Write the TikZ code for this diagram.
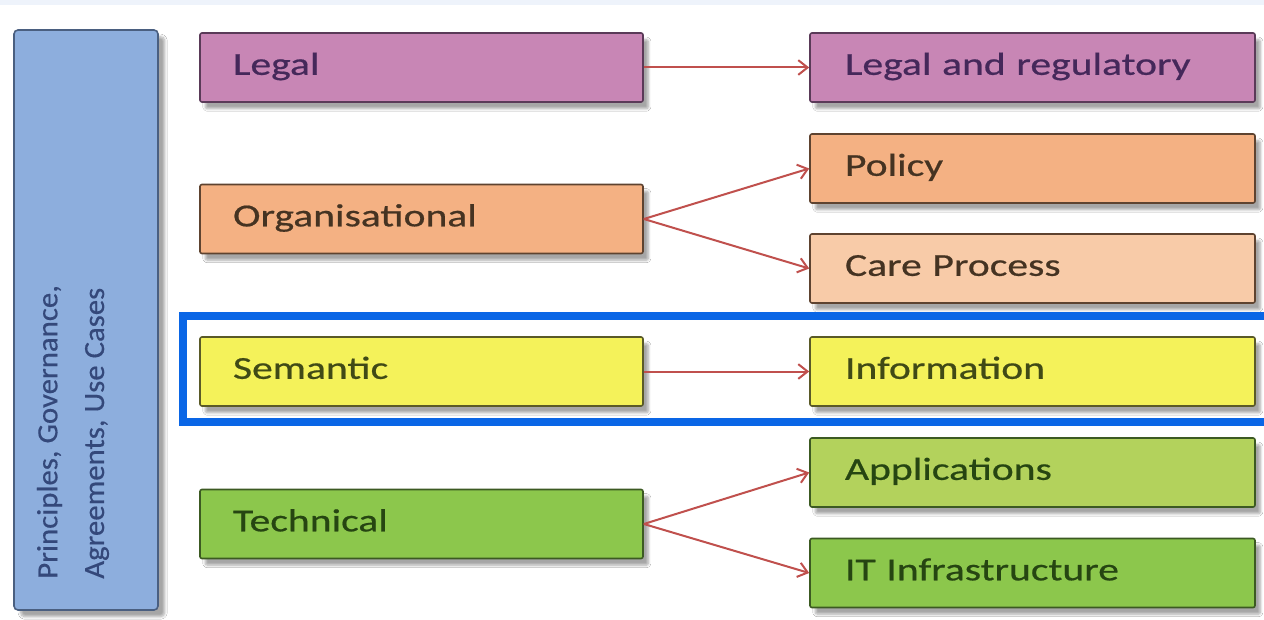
\documentclass[tikz,border=0pt]{standalone}
\usepackage{fontspec}
\setmainfont{Carlito}
\newfontfamily\widefont[FakeStretch=1.3,FakeBold=0.6]{Carlito}
\newfontfamily\sidefont[FakeStretch=1.05,FakeBold=0.4]{Carlito}
\usetikzlibrary{arrows.meta,shadows.blur}
\definecolor{bgstrip}{HTML}{EEF3FB}
\definecolor{sidefill}{HTML}{8DAEDD}
\definecolor{sideline}{HTML}{4A5F80}
\definecolor{sidetext}{HTML}{34487A}
\definecolor{legfill}{HTML}{C886B5}
\definecolor{legline}{HTML}{5A3A58}
\definecolor{legtext}{HTML}{45285A}
\definecolor{orgfill}{HTML}{F4B183}
\definecolor{orgline}{HTML}{5E4330}
\definecolor{orgtext}{HTML}{453322}
\definecolor{carefill}{HTML}{F8CBA8}
\definecolor{semfill}{HTML}{F4F25A}
\definecolor{semline}{HTML}{5A5A28}
\definecolor{semtext}{HTML}{404A16}
\definecolor{tecfill}{HTML}{8CC74C}
\definecolor{tecline}{HTML}{3C5A22}
\definecolor{tectext}{HTML}{264512}
\definecolor{appfill}{HTML}{B3D25C}
\definecolor{arrowc}{HTML}{C0504D}
\definecolor{frameblue}{HTML}{0A66E6}
\tikzset{
  box/.style={draw, line width=1.2pt, rounded corners=1.5pt, minimum height=51.75pt,
    inner ysep=0pt, align=left, text height=16pt, text depth=5pt,
    font=\widefont\fontsize{24}{28}\selectfont,
    blur shadow={shadow xshift=4pt, shadow yshift=-5pt, shadow blur steps=6, shadow opacity=35}},
  lbox/.style={box, text width=282.75pt, inner xsep=24.75pt},
  rbox/.style={box, text width=281.25pt, inner xsep=26.25pt},
  conn/.style={draw=arrowc, line width=1.5pt, -{Straight Barb[length=7pt,width=11pt,line width=1.5pt]}}
}
\begin{document}
\begin{tikzpicture}[x=0.75pt,y=-0.75pt]
\useasboundingbox (0,0) rectangle (1264,620);
\fill[white] (0,0) rectangle (1264,620);
\fill[bgstrip] (0,0) rectangle (1264,5);

% side box
\node[draw=sideline, fill=sidefill, line width=1.2pt, rounded corners=3pt,
  minimum width=108pt, minimum height=435pt, inner sep=0pt,
  blur shadow={shadow xshift=5pt, shadow yshift=-5pt, shadow blur steps=6, shadow opacity=35}]
  (side) at (86,320) {};
\node[rotate=90, anchor=west, align=left, inner sep=0pt, text=sidetext,
  font=\sidefont\fontsize{22}{35}\selectfont] (sidetxt) at (73,579)
  {Principles, Governance,\\Agreements, Use Cases};

% left column
\node[lbox, fill=legfill, draw=legline, text=legtext] (legal) at (421.5,67.5) {Legal};
\node[lbox, fill=orgfill, draw=orgline, text=orgtext] (org) at (421.5,219) {Organisational};
\node[lbox, fill=semfill, draw=semline, text=semtext] (sem) at (421.5,371.5) {Semantic};
\node[lbox, fill=tecfill, draw=tecline, text=tectext] (tec) at (421.5,524) {Technical};

% right column
\node[rbox, fill=legfill, draw=legline, text=legtext] (lr) at (1032.5,67.5) {Legal and regulatory};
\node[rbox, fill=orgfill, draw=orgline, text=orgtext] (pol) at (1032.5,168.5) {Policy};
\node[rbox, fill=carefill, draw=orgline, text=orgtext] (care) at (1032.5,268.5) {Care Process};
\node[rbox, fill=semfill, draw=semline, text=semtext] (info) at (1032.5,371.5) {Information};
\node[rbox, fill=appfill, draw=tecline, text=tectext] (app) at (1032.5,472.5) {Applications};
\node[rbox, fill=tecfill, draw=tecline, text=tectext] (it) at (1032.5,573) {IT Infrastructure};

% connectors
\draw[conn] (legal.east) -- (lr.west);
\draw[conn] (org.east) -- (pol.west);
\draw[conn] (org.east) -- (care.west);
\draw[conn] (sem.east) -- (info.west);
\draw[conn] (tec.east) -- (app.west);
\draw[conn] (tec.east) -- (it.west);

% highlight frame
\begin{scope}
\clip (0,0) rectangle (1264,620);
\draw[frameblue, line width=6pt] (183,316) rectangle (1280,422);
\end{scope}
\end{tikzpicture}
\end{document}
